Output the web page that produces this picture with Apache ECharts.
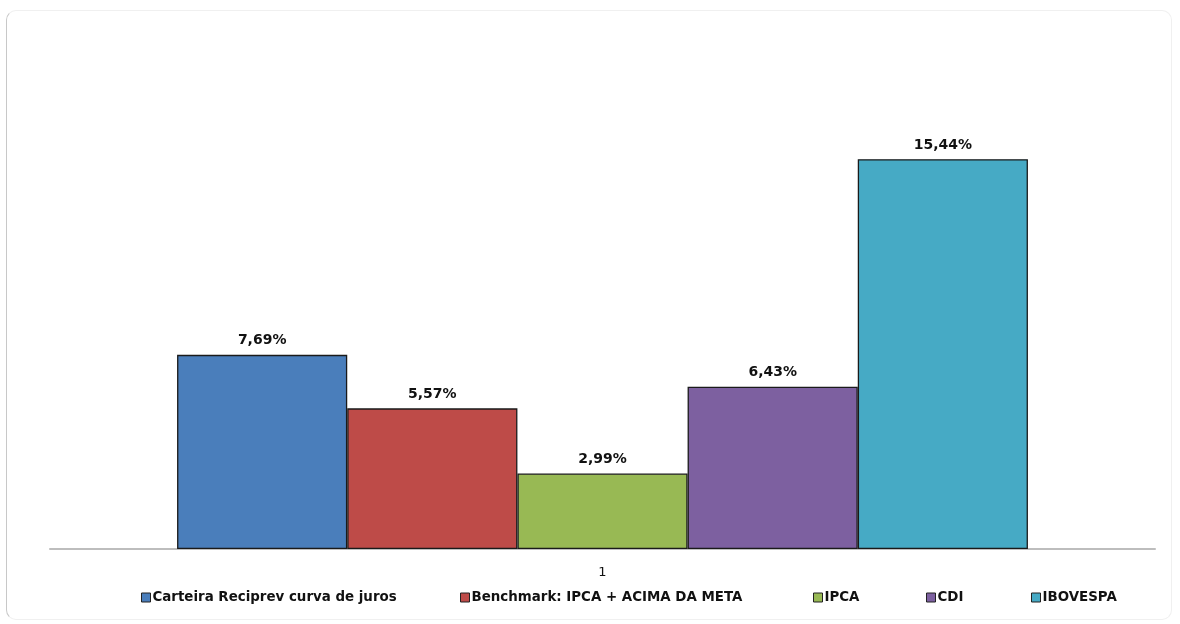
<!DOCTYPE html>
<html><head><meta charset="utf-8">
<script src="https://cdn.jsdelivr.net/npm/echarts@6/dist/echarts.min.js"></script>
<style>
html,body{margin:0;padding:0;background:#fff;}
#wrap{position:absolute;left:6px;top:10px;width:1166px;height:610px;border:1px solid #f0f0f0;border-left:1.5px solid #c8c8c8;border-radius:10px;box-sizing:border-box;}
#c{position:absolute;left:0;top:0;width:1180px;height:624px;}
</style></head>
<body><div id="wrap"></div><div id="c"></div>
<script>
const categories = ['1'];
const seriesNames = ['Carteira Reciprev curva de juros','Benchmark: IPCA + ACIMA DA META','IPCA','CDI','IBOVESPA'];
const carteira = [7.69];
const benchmark = [5.57];
const ipca = [2.99];
const cdi = [6.43];
const ibovespa = [15.44];
const colors = ['#4A7EBB','#BE4B48','#98B954','#7D60A0','#46AAC5'];
const legendLeft = [136, 455, 808, 921, 1026];

const values = [carteira, benchmark, ipca, cdi, ibovespa];
const font = 'DejaVu Sans, Verdana, sans-serif';
const chart = echarts.init(document.getElementById('c'));
chart.setOption({
  animation:false,
  backgroundColor:'transparent',
  grid:{left:50,right:25,top:44,bottom:75},
  legend: seriesNames.map((n,i)=>({
    data:[n], left:legendLeft[i], top:586, itemWidth:9, itemHeight:9, itemGap:0,
    icon:'rect', textStyle:{fontFamily:font,fontWeight:'bold',fontSize:13.4,color:'#111',padding:[0,0,0,-3]},
    itemStyle:{borderColor:'#222',borderWidth:1}
  })),
  xAxis:{type:'category',data:categories,axisTick:{show:false},
    axisLine:{lineStyle:{color:'#bdbdbd',width:2}},
    axisLabel:{fontFamily:font,fontSize:13,color:'#111',margin:17}},
  yAxis:{type:'value',min:0,max:20,show:false,splitLine:{show:false}},
  series: values.map((v,i)=>({
    name:seriesNames[i], type:'bar', data:v, barGap:'0%', barCategoryGap:'23%',
    itemStyle:{color:colors[i],borderColor:'#1a1a1a',borderWidth:1.3},
    label:{show:true,position:'top',distance:7,fontFamily:font,fontWeight:'bold',fontSize:14,color:'#111',
      formatter:p=>p.value.toFixed(2).replace('.',',')+'%'}
  }))
});
</script></body></html>
